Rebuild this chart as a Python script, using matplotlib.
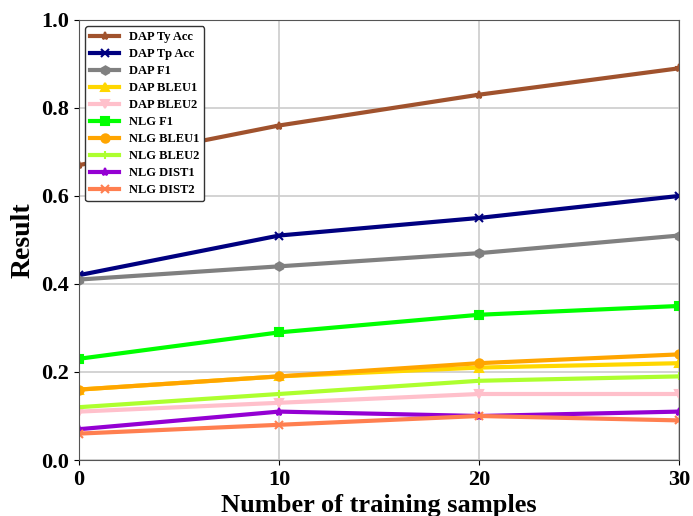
import matplotlib
matplotlib.use('Agg')
import matplotlib.pyplot as plt

plt.rcParams['font.family'] = ['Liberation Serif', 'DejaVu Serif']
plt.rcParams['font.weight'] = 'bold'

x = [0, 10, 20, 30]
dap_ty_acc = [0.67, 0.76, 0.83, 0.89]
dap_tp_acc = [0.42, 0.51, 0.55, 0.60]
dap_f1 = [0.41, 0.44, 0.47, 0.51]
dap_bleu1 = [0.16, 0.19, 0.21, 0.22]
dap_bleu2 = [0.11, 0.13, 0.15, 0.15]
nlg_f1 = [0.23, 0.29, 0.33, 0.35]
nlg_bleu1 = [0.16, 0.19, 0.22, 0.24]
nlg_bleu2 = [0.12, 0.15, 0.18, 0.19]
nlg_dist1 = [0.07, 0.11, 0.10, 0.11]
nlg_dist2 = [0.06, 0.08, 0.10, 0.09]

series = [
    ('DAP Ty Acc', dap_ty_acc, 'sienna', '*'),
    ('DAP Tp Acc', dap_tp_acc, 'navy', 'x'),
    ('DAP F1', dap_f1, 'gray', 'h'),
    ('DAP BLEU1', dap_bleu1, 'gold', '^'),
    ('DAP BLEU2', dap_bleu2, 'pink', 'v'),
    ('NLG F1', nlg_f1, 'lime', 's'),
    ('NLG BLEU1', nlg_bleu1, 'orange', 'o'),
    ('NLG BLEU2', nlg_bleu2, 'greenyellow', '+'),
    ('NLG DIST1', nlg_dist1, 'darkviolet', '*'),
    ('NLG DIST2', nlg_dist2, 'coral', 'x'),
]

fig = plt.figure(figsize=(6.93, 5.16), dpi=100)
ax = fig.add_axes([0.114, 0.1085, 0.866, 0.853])
for name, vals, c, m in series:
    ax.plot(x, vals, color=c, marker=m, lw=3, ms=6, mew=1.5, label=name)

ax.set_xlim(0, 30)
ax.set_ylim(0, 1.0)
ax.set_xticks([0, 10, 20, 30])
ax.set_yticks([0, 0.2, 0.4, 0.6, 0.8, 1.0])
ax.grid(True, color='#cccccc', lw=1.2)
ax.tick_params(labelsize=16)
for lab in ax.get_xticklabels() + ax.get_yticklabels():
    lab.set_fontweight('bold')
for s in ax.spines.values():
    s.set_color('#555555')
ax.set_xlabel('Number of training samples', fontsize=19, fontweight='bold', labelpad=3)
ax.set_ylabel('Result', fontsize=20, fontweight='bold')
leg = ax.legend(loc='upper left', prop={'weight': 'bold', 'size': 9},
                framealpha=1, edgecolor='#333333', handlelength=2.3, labelspacing=0.4)

fig.savefig('out.png')
